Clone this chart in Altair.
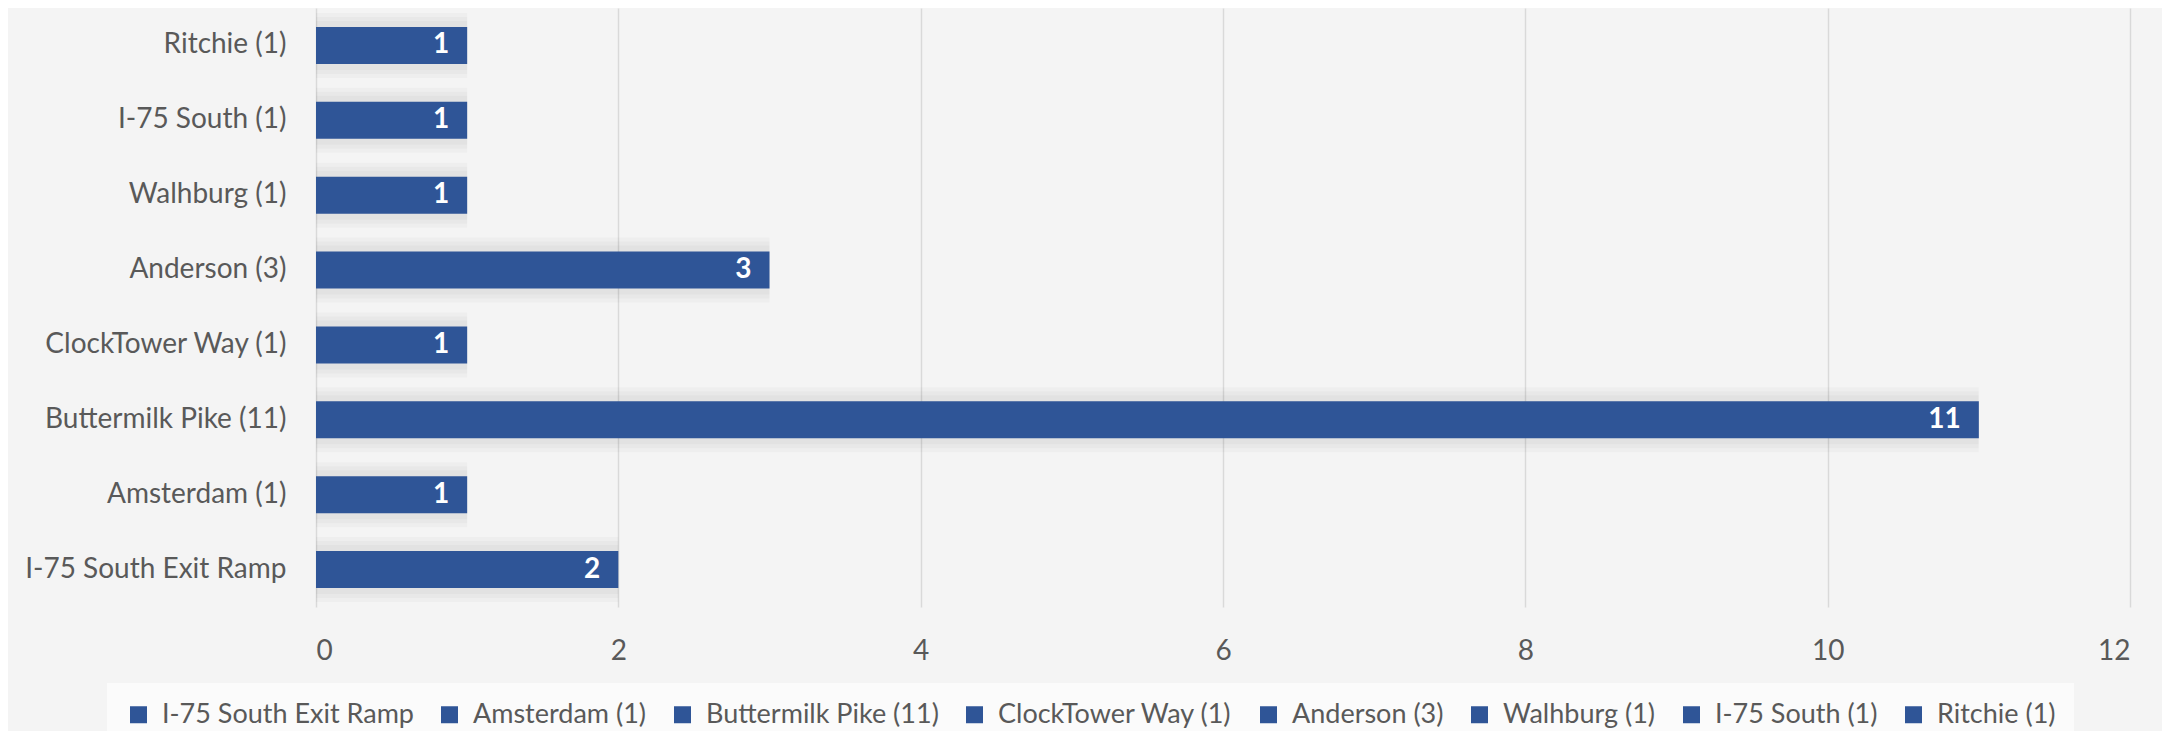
import altair as alt
import pandas as pd

# Categories top-to-bottom as drawn, and their counts
categories = ["Ritchie (1)", "I-75 South (1)", "Walhburg (1)", "Anderson (3)",
              "ClockTower Way (1)", "Buttermilk Pike (11)", "Amsterdam (1)",
              "I-75 South Exit Ramp"]
values = [1, 1, 1, 3, 1, 11, 1, 2]
legend_order = list(reversed(categories))
x_ticks = [0, 2, 4, 6, 8, 10, 12]

BLUE = "#2F5597"
TEXT = "#595959"
FONT = "Lato"

df = pd.DataFrame({"cat": categories, "val": values})

y_enc = alt.Y("cat:N", sort=categories, title=None,
              scale=alt.Scale(paddingInner=0.5, paddingOuter=0.25),
              axis=alt.Axis(labelFontSize=28, labelColor=TEXT, labelFont=FONT,
                            labelPadding=30, ticks=False, domain=False,
                            labelLimit=400))
x_enc = alt.X("val:Q", title=None,
              scale=alt.Scale(domain=[0, 12], nice=False),
              axis=alt.Axis(values=x_ticks, format="d", labelFontSize=28,
                            labelColor=TEXT, labelFont=FONT, labelPadding=30,
                            ticks=False, domain=False, grid=True,
                            gridColor="#d9d9d9", gridWidth=1.5))

base = alt.Chart(df)

shadows = [
    base.mark_bar(color="#000000", opacity=0.025, size=s, x2Offset=o)
        .encode(y=y_enc, x=x_enc)
    for s, o in [(65, 16), (57, 11), (49, 6)]
]

bars = base.mark_bar(size=37).encode(
    y=y_enc, x=x_enc,
    color=alt.Color("cat:N",
                    scale=alt.Scale(domain=legend_order, range=[BLUE] * 8),
                    legend=alt.Legend(title=None, orient="none", direction="horizontal",
                                      legendX=-209, legendY=675, padding=18,
                                      fillColor="#fbfbfb",
                                      symbolType="square", symbolSize=289,
                                      symbolStrokeWidth=0, labelFontSize=27,
                                      labelFont=FONT, labelColor=TEXT,
                                      labelOffset=10, columnPadding=22,
                                      labelLimit=400)),
)

labels = base.mark_text(align="right", baseline="middle", dx=-18, color="white",
                        fontSize=28, fontWeight="bold", font=FONT).encode(
    y=alt.Y("cat:N", sort=categories), x="val:Q", text="val:Q")

chart = alt.layer(*shadows, bars, labels).properties(
    width=1814, height=599,
    autosize=alt.AutoSizeParams(type="none"),
    padding={"left": 308, "top": 0, "right": 32, "bottom": 124},
    background="#f4f4f4",
).configure_view(stroke=None)

chart.save("out.html", embed_options={"renderer": "svg", "actions": False})
